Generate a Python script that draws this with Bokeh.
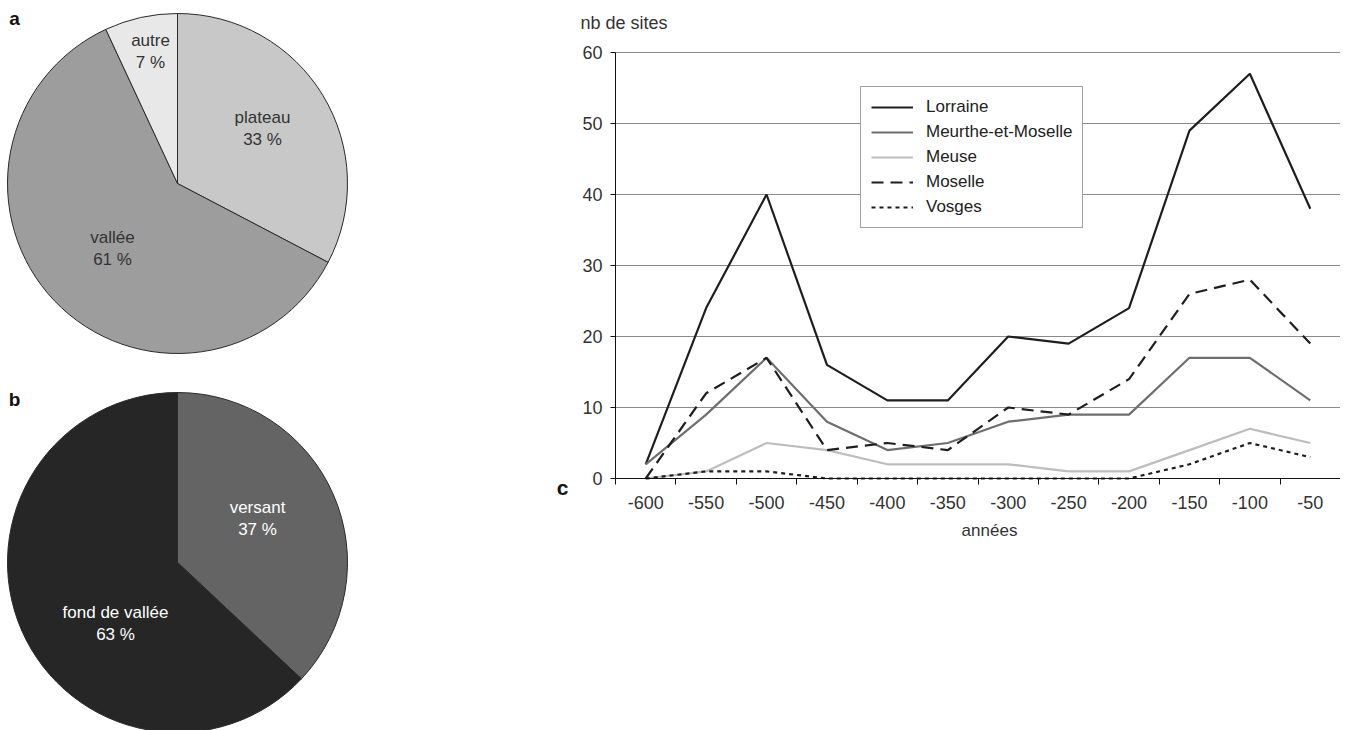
from bokeh.plotting import figure
from bokeh.layouts import row
from bokeh.models import Range1d, FixedTicker, Label
from bokeh.core.properties import value
from bokeh.embed import file_html
from bokeh.resources import INLINE
import numpy as np

# ---------------- data ----------------
years = [-600, -550, -500, -450, -400, -350, -300, -250, -200, -150, -100, -50]
lorraine = [2, 24, 40, 16, 11, 11, 20, 19, 24, 49, 57, 38]
meurthe = [2, 9, 17, 8, 4, 5, 8, 9, 9, 17, 17, 11]
meuse = [0, 1, 5, 4, 2, 2, 2, 1, 1, 4, 7, 5]
moselle = [0, 12, 17, 4, 5, 4, 10, 9, 14, 26, 28, 19]
vosges = [0, 1, 1, 0, 0, 0, 0, 0, 0, 2, 5, 3]
y_ticks = [0, 10, 20, 30, 40, 50, 60]

pie_a_labels = ["plateau", "vallée", "autre"]
pie_a_values = [33, 61, 7]
pie_b_labels = ["versant", "fond de vallée"]
pie_b_values = [37, 63]

FONT = "Liberation Sans"
H = 730
P1_W = 360
P2_W = 980

# ---------------- pies ----------------
p1 = figure(width=P1_W, height=H, x_range=Range1d(0, P1_W), y_range=Range1d(-H, 0),
            output_backend="svg", toolbar_location=None,
            min_border=0, min_border_left=0, min_border_right=0,
            min_border_top=0, min_border_bottom=0)
p1.axis.visible = False
p1.grid.visible = False
p1.outline_line_color = None


def draw_pie(p, cx, cy, r, labels, vals, colors, text_color, label_pos):
    v = np.array(vals, dtype=float)
    frac = v / v.sum()
    cum = np.concatenate([[0], np.cumsum(frac)])
    starts = 90 - 360 * cum[:-1]
    ends = 90 - 360 * cum[1:]
    p.wedge(x=cx, y=cy, radius=r, start_angle=list(starts), end_angle=list(ends),
            start_angle_units="deg", end_angle_units="deg", direction="clock",
            fill_color=colors, line_color="#2a2a2a", line_width=1)
    for lab, val, (lx, ly) in zip(labels, vals, label_pos):
        p.text(x=[cx + lx], y=[cy - ly], text=[lab], text_align="center",
               text_baseline="middle", text_font=value(FONT), text_font_size="17px",
               text_color=text_color)
        p.text(x=[cx + lx], y=[cy - ly - 22], text=[f"{val} %"], text_align="center",
               text_baseline="middle", text_font=value(FONT), text_font_size="17px",
               text_color=text_color)


draw_pie(p1, 177, -183, 170, pie_a_labels, pie_a_values,
         ["#c8c8c8", "#9d9d9d", "#e8e8e8"], "#333333",
         [(85, -66), (-65, 54), (-27, -143)])
draw_pie(p1, 177, -562, 170, pie_b_labels, pie_b_values,
         ["#646464", "#262626"], "#ffffff",
         [(80, -55), (-62, 50)])

p1.add_layout(Label(x=14, y=-18, text="a", text_font=FONT, text_font_style="bold",
                    text_font_size="19px", text_align="center", text_baseline="middle",
                    text_color="#111111"))
p1.add_layout(Label(x=14, y=-399, text="b", text_font=FONT, text_font_style="bold",
                    text_font_size="19px", text_align="center", text_baseline="middle",
                    text_color="#111111"))

# ---------------- line chart ----------------
# frame spans the whole figure; data region: x -625..-25 -> page 615..1340, y 0..60 -> page 478..52
X0, X1 = -625, -25
LEFT = P1_W
px_x = (1340 - 615) / (X1 - X0)
px_y = (478 - 52) / 60
x_lo = X0 - (615 - LEFT) / px_x
x_hi = X1 + ((LEFT + P2_W) - 1340) / px_x
y_hi = 60 + 52 / px_y
y_lo = 0 - (H - 478) / px_y

p2 = figure(width=P2_W, height=H, x_range=Range1d(x_lo, x_hi), y_range=Range1d(y_lo, y_hi),
            output_backend="svg", toolbar_location=None,
            min_border=0, min_border_left=0, min_border_right=0, min_border_top=0,
            min_border_bottom=0)
p2.outline_line_color = None
p2.grid.visible = False
# horizontal gridlines limited to the data region
p2.segment(x0=[X0] * len(y_ticks), y0=y_ticks, x1=[X1] * len(y_ticks), y1=y_ticks,
           line_color="#8a8a8a", line_width=1)

p2.yaxis.ticker = FixedTicker(ticks=y_ticks)
p2.xaxis.ticker = FixedTicker(ticks=years, minor_ticks=[y - 25 for y in years] + [years[-1] + 25])
p2.xaxis.major_label_overrides = {y: str(y) for y in years}
p2.xaxis.fixed_location = 0
p2.yaxis.fixed_location = X0
p2.xaxis.bounds = (X0, X1)
p2.yaxis.bounds = (0, 60)
for ax in (p2.xaxis[0], p2.yaxis[0]):
    ax.axis_line_color = "#111111"
    ax.axis_line_width = 1
    ax.major_label_text_font = FONT
    ax.major_label_text_font_size = "18px"
    ax.major_label_text_color = "#333333"
    ax.major_tick_line_color = "#111111"
    ax.minor_tick_line_color = "#111111"
p2.yaxis.major_tick_out = 5
p2.yaxis.major_tick_in = 0
p2.yaxis.minor_tick_out = 0
p2.yaxis.minor_tick_in = 0
p2.yaxis.major_label_standoff = 8
p2.xaxis.major_tick_out = 0
p2.xaxis.major_tick_in = 0
p2.xaxis.minor_tick_out = 6
p2.xaxis.minor_tick_in = 0
p2.xaxis.major_label_standoff = 11

series = [
    ("Lorraine", lorraine, "#1e1e1e", None),
    ("Meurthe-et-Moselle", meurthe, "#6e6e6e", None),
    ("Meuse", meuse, "#bdbdbd", None),
    ("Moselle", moselle, "#1e1e1e", "12 7"),
    ("Vosges", vosges, "#1e1e1e", "4 4"),
]
for name, vals, col, dash in series:
    kw = dict(line_dash=dash) if dash else {}
    p2.line(years, vals, line_color=col, line_width=2.2, legend_label=name, **kw)

lg = p2.legend[0]
lg.location = (860 - LEFT, H - 228)
lg.glyph_width = 42
lg.glyph_height = 20
lg.label_height = 20
lg.spacing = 5
lg.padding = 10
lg.label_standoff = 13
lg.margin = 0
lg.label_text_font = FONT
lg.label_text_font_size = "17px"
lg.label_text_color = "#222222"
lg.border_line_color = "#444444"
lg.border_line_width = 1
lg.background_fill_color = "#ffffff"
lg.background_fill_alpha = 1


def screen_label(px, py, text, size="18px", bold=False, align="center"):
    p2.add_layout(Label(x=px - LEFT, y=H - py, x_units="screen", y_units="screen", text=text,
                        text_font=FONT, text_font_size=size,
                        text_font_style="bold" if bold else "normal",
                        text_color="#111111" if bold else "#333333",
                        text_baseline="middle", text_align=align))


screen_label(580, 22, "nb de sites", align="left")
screen_label(989, 530, "années", size="17px")
screen_label(562, 487, "c", size="21px", bold=True)

layout = row(p1, p2)
open("out.html", "w").write(file_html(layout, INLINE))
